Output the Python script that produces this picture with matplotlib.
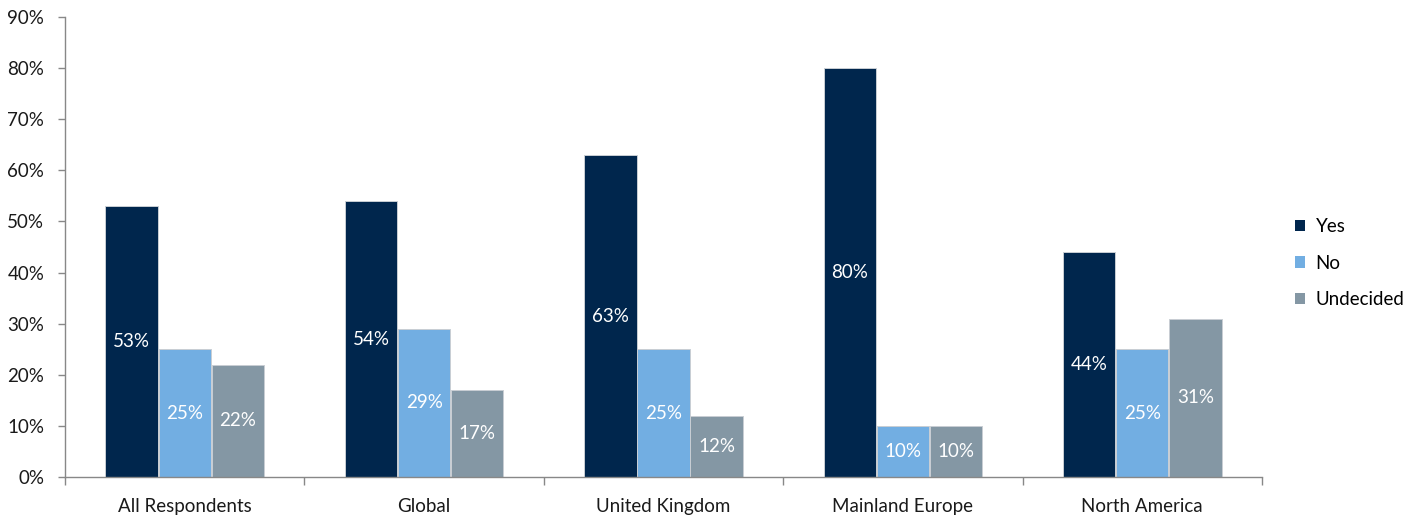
import numpy as np
import matplotlib
matplotlib.use('Agg')
import matplotlib.pyplot as plt
from matplotlib.patches import Patch
from matplotlib.ticker import FuncFormatter, FixedLocator

plt.rcParams['font.family'] = ['Lato', 'DejaVu Sans']

categories = ["All Respondents", "Global", "United Kingdom", "Mainland Europe", "North America"]
series = ["Yes", "No", "Undecided"]
yes = [53, 54, 63, 80, 44]
no = [25, 29, 25, 10, 25]
undecided = [22, 17, 12, 10, 31]
colors = ["#00264D", "#72AEE2", "#8497A4"]

fig = plt.figure(figsize=(14.25, 5.19), dpi=100)
ax = fig.add_axes([0.0456, 0.0809, 0.84, 0.8863])

x = np.arange(len(categories))
width = 0.222
for i, (name, vals) in enumerate(zip(series, [yes, no, undecided])):
    pos = x + (i - 1) * width
    bars = ax.bar(pos, vals, width * 0.985, color=colors[i], edgecolor="#c9ced4",
                  linewidth=0.7, label=name, zorder=2)
    for b, v in zip(bars, vals):
        ax.text(b.get_x() + b.get_width() / 2, v / 2, "%d%%" % v, ha="center",
                va="center", color="white", fontsize=13.5)

ax.set_ylim(0, 90)
ax.set_xlim(-0.5, len(categories) - 0.5)
ax.set_yticks(range(0, 91, 10))
ax.yaxis.set_major_formatter(FuncFormatter(lambda v, p: "%d%%" % v))
ax.set_xticks(x)
ax.set_xticklabels(categories)
# small ticks between the category groups
ax.xaxis.set_minor_locator(FixedLocator(np.arange(-0.5, len(categories), 1.0)))
ax.tick_params(axis="x", which="major", length=0, pad=15, labelsize=13.5, labelcolor="#1a1a1a")
ax.tick_params(axis="x", which="minor", length=6, color="#888888", width=1)
ax.tick_params(axis="y", which="major", length=5, color="#888888", width=1, labelsize=13.5,
               labelcolor="#1a1a1a", pad=10)

for s in ["top", "right"]:
    ax.spines[s].set_visible(False)
for s in ["left", "bottom"]:
    ax.spines[s].set_color("#888888")
    ax.spines[s].set_linewidth(1)

handles = [Patch(facecolor=c, label=n) for c, n in zip(colors, series)]
fig.legend(handles=handles, loc="center left", bbox_to_anchor=(0.897, 0.493),
           frameon=False, fontsize=13.5, handlelength=0.55, handleheight=0.55,
           handletextpad=0.55, labelspacing=1.05)

fig.savefig("out.png", dpi=100)
